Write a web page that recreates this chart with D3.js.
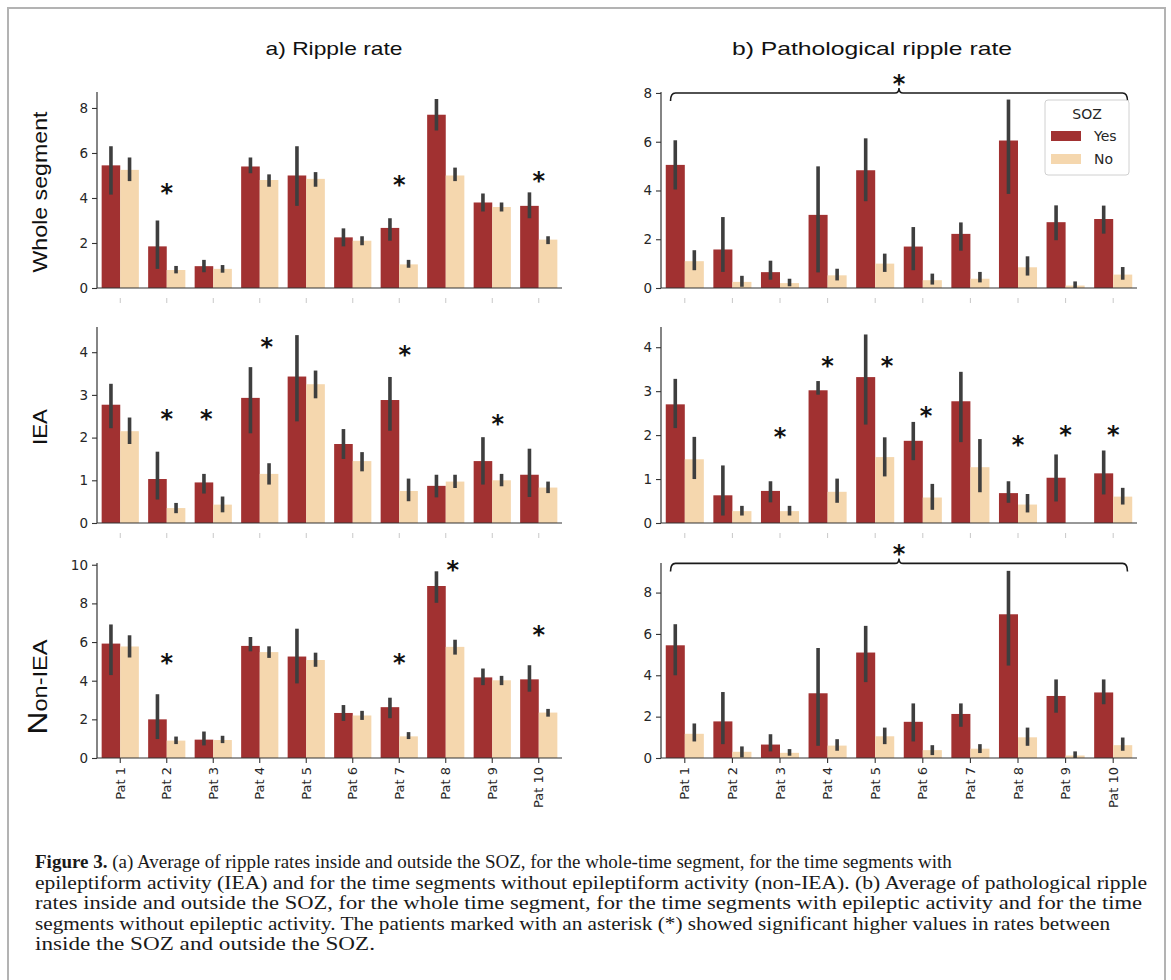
<!DOCTYPE html>
<html><head><meta charset="utf-8">
<script src="https://cdn.jsdelivr.net/npm/d3@7"></script>
<style>body{margin:0;background:#fff} svg{display:block}</style>
</head><body><svg id="c" width="1171" height="980"></svg>
<script>
// ---------------- DATA ----------------
const patients = ["Pat 1","Pat 2","Pat 3","Pat 4","Pat 5","Pat 6","Pat 7","Pat 8","Pat 9","Pat 10"];
const sozLevels = ["Yes","No"];

// a) Ripple rate - Whole segment
const rippleWholeYes   = [5.45, 1.85, 0.97, 5.4, 5.0, 2.25, 2.67, 7.7, 3.8, 3.65];
const rippleWholeYesCI = [[4.15,6.3],[0.85,3.0],[0.7,1.25],[5.1,5.8],[3.65,6.3],[1.85,2.65],[2.1,3.1],[7.0,8.4],[3.4,4.2],[3.1,4.25]];
const rippleWholeNo    = [5.25, 0.8, 0.85, 4.8, 4.85, 2.1, 1.05, 5.0, 3.6, 2.15];
const rippleWholeNoCI  = [[4.75,5.8],[0.65,0.98],[0.68,1.02],[4.5,5.05],[4.5,5.15],[1.9,2.3],[0.9,1.25],[4.75,5.35],[3.4,3.8],[1.95,2.3]];
const rippleWholeStars = [[1,4.5],[6,4.85],[9,5.0]];

// a) Ripple rate - IEA
const rippleIEAYes   = [2.77, 1.03, 0.95, 2.93, 3.43, 1.85, 2.88, 0.87, 1.45, 1.13];
const rippleIEAYesCI = [[2.22,3.26],[0.55,1.67],[0.69,1.15],[2.1,3.65],[2.38,4.4],[1.5,2.2],[2.16,3.42],[0.6,1.13],[0.9,2.01],[0.61,1.74]];
const rippleIEANo    = [2.15, 0.35, 0.43, 1.15, 3.25, 1.45, 0.75, 0.97, 1.0, 0.83];
const rippleIEANoCI  = [[1.85,2.47],[0.23,0.47],[0.25,0.62],[0.9,1.4],[2.92,3.57],[1.21,1.66],[0.51,1.04],[0.82,1.13],[0.86,1.15],[0.7,0.97]];
const rippleIEAStars = [[1,2.57],[2,2.57,-0.15],[3,4.27,0.15],[6,4.07,0.12],[8,2.46,0.12]];

// a) Ripple rate - Non-IEA
const rippleNonYes   = [5.92, 2.0, 0.95, 5.8, 5.25, 2.33, 2.63, 8.9, 4.17, 4.07];
const rippleNonYesCI = [[4.29,6.91],[0.98,3.3],[0.65,1.37],[5.52,6.26],[3.86,6.69],[1.92,2.74],[2.06,3.12],[8.03,9.66],[3.77,4.63],[3.43,4.8]];
const rippleNonNo    = [5.77, 0.9, 0.93, 5.48, 5.07, 2.2, 1.12, 5.75, 4.02, 2.35];
const rippleNonNoCI  = [[5.2,6.35],[0.72,1.11],[0.77,1.15],[5.18,5.78],[4.72,5.45],[1.97,2.44],[0.98,1.34],[5.35,6.12],[3.77,4.25],[2.14,2.54]];
const rippleNonStars = [[1,5.23],[6,5.23],[7,10.03,0.15],[9,6.69]];

// b) Pathological ripple rate - Whole segment
const pathWholeYes   = [5.05, 1.58, 0.65, 3.0, 4.83, 1.7, 2.22, 6.05, 2.7, 2.83];
const pathWholeYesCI = [[4.04,6.06],[0.66,2.91],[0.34,1.12],[0.64,4.99],[3.56,6.14],[0.73,2.5],[1.53,2.69],[3.86,7.73],[1.96,3.39],[2.23,3.38]];
const pathWholeNo    = [1.1, 0.25, 0.2, 0.52, 1.0, 0.32, 0.38, 0.85, 0.1, 0.55];
const pathWholeNoCI  = [[0.73,1.55],[0.05,0.5],[0.07,0.38],[0.31,0.79],[0.66,1.41],[0.14,0.59],[0.23,0.66],[0.51,1.3],[0.0,0.27],[0.34,0.86]];

// b) Pathological ripple rate - IEA
const pathIEAYes   = [2.7, 0.63, 0.73, 3.02, 3.32, 1.87, 2.77, 0.68, 1.03, 1.13];
const pathIEAYesCI = [[2.16,3.28],[0.17,1.31],[0.47,0.95],[2.92,3.23],[2.24,4.29],[1.43,2.3],[1.84,3.44],[0.46,0.95],[0.49,1.56],[0.65,1.65]];
const pathIEANo    = [1.45, 0.27, 0.27, 0.71, 1.5, 0.58, 1.27, 0.42, 0, 0.6];
const pathIEANoCI  = [[1.0,1.96],[0.17,0.39],[0.17,0.39],[0.46,1.01],[1.06,1.95],[0.3,0.89],[0.7,1.91],[0.24,0.66],null,[0.42,0.8]];
const pathIEAStars = [[2,2.1],[3,3.7],[4,3.7,0.25],[5,2.57,0.07],[7,1.92],[8,2.15],[9,2.15]];

// b) Pathological ripple rate - Non-IEA
const pathNonYes   = [5.45, 1.77, 0.65, 3.13, 5.1, 1.75, 2.13, 6.95, 3.0, 3.17];
const pathNonYesCI = [[4.0,6.47],[0.67,3.19],[0.32,1.15],[0.59,5.32],[3.67,6.39],[0.8,2.64],[1.51,2.64],[4.47,9.05],[2.19,3.8],[2.6,3.8]];
const pathNonNo    = [1.17, 0.3, 0.25, 0.6, 1.05, 0.38, 0.45, 1.0, 0.12, 0.62];
const pathNonNoCI  = [[0.8,1.67],[0.03,0.56],[0.11,0.43],[0.35,0.91],[0.67,1.47],[0.14,0.62],[0.24,0.67],[0.59,1.47],[0,0.32],[0.35,0.99]];

// axis limits and ticks
const yLimits = [[8.71, 4.59, 10.09],[8.04, 4.46, 9.43]];
const yTicks  = [[[0,2,4,6,8],[0,1,2,3,4],[0,2,4,6,8,10]],[[0,2,4,6,8],[0,1,2,3,4],[0,2,4,6,8]]];
const bracketLevels = [8.0, null, 9.41]; // panel b whole & non-IEA overall significance

const colTitles = ["a) Ripple rate","b) Pathological ripple rate"];
const rowLabels = ["Whole segment","IEA","Non-IEA"];
const captionLines = [
  ["Figure 3.", " (a) Average of ripple rates inside and outside the SOZ, for the whole-time segment, for the time segments with"],
  ["", "epileptiform activity (IEA) and for the time segments without epileptiform activity (non-IEA). (b) Average of pathological ripple"],
  ["", "rates inside and outside the SOZ, for the whole time segment, for the time segments with epileptic activity and for the time"],
  ["", "segments without epileptic activity. The patients marked with an asterisk (*) showed significant higher values in rates between"],
  ["", "inside the SOZ and outside the SOZ."]
];

// ---------------- LAYOUT / STYLE ----------------
const W = 1171, H = 980;
const colYes = "#a13131", colNo = "#f5d7ae", colErr = "#3e3e3e", colAxis = "#333333", colText = "#262626";
const cols = [{x0:97, x1:562},{x0:661, x1:1137}];
const rows = [{top:92, bottom:288},{top:327, bottom:523},{top:563, bottom:758}];
const captionLen = [null, 1112, 1107, 1075, 340];

const svg = d3.select("#c");
svg.append("rect").attr("width",W).attr("height",H).attr("fill","#fff");
svg.append("path").attr("d",`M8,${H+2} V8 H1165 V${H+2}`).attr("fill","none").attr("stroke","#b3b3b3").attr("stroke-width",2);

const panels = [
  [ {yes:rippleWholeYes, yesCI:rippleWholeYesCI, no:rippleWholeNo, noCI:rippleWholeNoCI, stars:rippleWholeStars},
    {yes:rippleIEAYes, yesCI:rippleIEAYesCI, no:rippleIEANo, noCI:rippleIEANoCI, stars:rippleIEAStars},
    {yes:rippleNonYes, yesCI:rippleNonYesCI, no:rippleNonNo, noCI:rippleNonNoCI, stars:rippleNonStars} ],
  [ {yes:pathWholeYes, yesCI:pathWholeYesCI, no:pathWholeNo, noCI:pathWholeNoCI, stars:[]},
    {yes:pathIEAYes, yesCI:pathIEAYesCI, no:pathIEANo, noCI:pathIEANoCI, stars:pathIEAStars},
    {yes:pathNonYes, yesCI:pathNonYesCI, no:pathNonNo, noCI:pathNonNoCI, stars:[]} ]
];

function drawPanel(ci, ri, d) {
  const c = cols[ci], r = rows[ri];
  const g = svg.append("g");
  const x = d3.scaleBand().domain(patients).range([c.x0, c.x1]).paddingInner(0.2).paddingOuter(0.1);
  const xs = d3.scaleBand().domain(sozLevels).range([0, x.bandwidth()]);
  const y = d3.scaleLinear().domain([0, yLimits[ci][ri]]).range([r.bottom, r.top]);

  const series = [{k:"Yes", v:d.yes, ci:d.yesCI, col:colYes},{k:"No", v:d.no, ci:d.noCI, col:colNo}];
  series.forEach(s => {
    const rowsData = patients.map((p,i)=>({p, v:s.v[i], ci:s.ci[i]}));
    g.selectAll(null).data(rowsData).enter().append("rect")
      .attr("x", e => x(e.p) + xs(s.k))
      .attr("width", xs.bandwidth())
      .attr("y", e => y(e.v))
      .attr("height", e => y(0) - y(e.v))
      .attr("fill", s.col);
  });
  series.forEach(s => {
    const rowsData = patients.map((p,i)=>({p, ci:s.ci[i]})).filter(e => e.ci);
    g.selectAll(null).data(rowsData).enter().append("line")
      .attr("x1", e => x(e.p) + xs(s.k) + xs.bandwidth()/2)
      .attr("x2", e => x(e.p) + xs(s.k) + xs.bandwidth()/2)
      .attr("y1", e => y(e.ci[0]))
      .attr("y2", e => y(e.ci[1]))
      .attr("stroke", colErr).attr("stroke-width", 3.6);
  });

  // y axis
  const ya = g.append("g").attr("transform",`translate(${c.x0},0)`)
    .call(d3.axisLeft(y).tickValues(yTicks[ci][ri]).tickFormat(d3.format("d")).tickSize(5).tickSizeOuter(0).tickPadding(4));
  ya.select(".domain").remove();
  ya.selectAll("line").attr("stroke", colAxis).attr("stroke-width",1.1);
  ya.selectAll("text").attr("font-family","DejaVu Sans").attr("font-size",13.5).attr("fill",colText);
  g.append("line").attr("x1",c.x0).attr("x2",c.x0).attr("y1",r.top).attr("y2",r.bottom).attr("stroke",colAxis).attr("stroke-width",1.2);

  // x axis
  const xa = g.append("g").attr("transform",`translate(0,${r.bottom})`)
    .call(d3.axisBottom(x).tickSize(ri===2?5:0).tickSizeOuter(0).tickPadding(6));
  xa.select(".domain").remove();
  xa.selectAll("line").attr("stroke", colAxis).attr("stroke-width",1.1);
  if (ri === 2) {
    xa.selectAll("text")
      .attr("transform","rotate(-90)")
      .attr("x",-9).attr("y",0).attr("dy","0.36em")
      .style("text-anchor","end")
      .attr("font-family","DejaVu Sans").attr("font-size",13).attr("fill",colText);
  } else {
    xa.selectAll("text").remove();
    xa.selectAll(".tick").append("line").attr("y1",10).attr("y2",15).attr("stroke","#c8c8c8").attr("stroke-width",1);
  }
  g.append("line").attr("x1",c.x0).attr("x2",c.x1).attr("y1",r.bottom).attr("y2",r.bottom).attr("stroke",colAxis).attr("stroke-width",1.2);

  // significance stars
  g.selectAll(null).data(d.stars).enter().append("text")
    .attr("x", s => x(patients[s[0]]) + x.bandwidth()/2 + (s[2]||0)*x.step())
    .attr("y", s => y(s[1]) + 14)
    .attr("text-anchor","middle")
    .attr("font-family","DejaVu Sans").attr("font-weight","bold").attr("font-size",24).attr("fill","#111")
    .text("*");

  // bracket over all patients
  if (ci === 1 && bracketLevels[ri] != null) {
    const yb = y(bracketLevels[ri]);
    const xl = c.x0 + 0.2*x.step(), xr = c.x1 - 0.2*x.step(), xm = (c.x0 + c.x1)/2;
    g.append("path")
      .attr("d", `M${xl},${yb+8} Q${xl},${yb} ${xl+5},${yb} H${xm-4} Q${xm},${yb} ${xm},${yb-5} Q${xm},${yb} ${xm+4},${yb} H${xr-5} Q${xr},${yb} ${xr},${yb+8}`)
      .attr("fill","none").attr("stroke","#1a1a1a").attr("stroke-width",1.6);
    g.append("text").attr("x", xm).attr("y", yb - 1)
      .attr("text-anchor","middle")
      .attr("font-family","DejaVu Sans").attr("font-weight","bold").attr("font-size",24).attr("fill","#111")
      .text("*");
  }

  // legend
  if (ci === 1 && ri === 0) {
    const lx = c.x1 - 8 - 84, ly = r.top + 8;
    const lg = svg.append("g").attr("transform",`translate(${lx},${ly})`);
    lg.append("rect").attr("width",84).attr("height",75).attr("rx",3)
      .attr("fill","#fff").attr("fill-opacity",0.85).attr("stroke","#d0d0d0").attr("stroke-width",1);
    lg.append("text").attr("x",42).attr("y",19).attr("text-anchor","middle")
      .attr("font-family","DejaVu Sans").attr("font-size",14).attr("fill",colText).text("SOZ");
    const items = [{k:"Yes", col:colYes},{k:"No", col:colNo}];
    items.forEach((it,i) => {
      lg.append("rect").attr("x",6).attr("y",31 + i*23).attr("width",30).attr("height",10).attr("fill",it.col);
      lg.append("text").attr("x",49).attr("y",41 + i*23)
        .attr("font-family","DejaVu Sans").attr("font-size",14).attr("fill",colText).text(it.k);
    });
  }
}

panels.forEach((col,ci) => col.forEach((d,ri) => drawPanel(ci, ri, d)));

// column titles
const titleSpecs = [{cx:334, len:137},{cx:872, len:280}];
colTitles.forEach((t,i) => {
  svg.append("text").attr("x", titleSpecs[i].cx).attr("y",55).attr("text-anchor","middle")
    .attr("font-family","Liberation Sans").attr("font-size",19).attr("fill","#111")
    .attr("textLength", titleSpecs[i].len).attr("lengthAdjust","spacingAndGlyphs")
    .text(t);
});

// row labels
const rowLabelSpecs = [{cy:192, len:161},{cy:427, len:36},{cy:687, len:95}];
rowLabels.forEach((t,i) => {
  const tx = svg.append("text").attr("transform",`translate(47,${rowLabelSpecs[i].cy}) rotate(-90)`)
    .attr("text-anchor","middle")
    .attr("font-family","Liberation Sans").attr("font-size",20).attr("fill","#111")
    .attr("textLength", rowLabelSpecs[i].len).attr("lengthAdjust","spacingAndGlyphs");
  if (t === "Non-IEA") {
    tx.append("tspan").attr("font-size",27).text(t[0]);
    tx.append("tspan").text(t.slice(1));
  } else tx.text(t);
});

// caption
captionLines.forEach((ln,i) => {
  const t = svg.append("text").attr("x",35).attr("y",868 + i*20.5)
    .attr("font-family","Liberation Serif").attr("font-size",19).attr("fill","#1a1a1a");
  if (captionLen[i]) t.attr("textLength", captionLen[i]).attr("lengthAdjust","spacingAndGlyphs");
  if (ln[0]) t.append("tspan").attr("font-weight","bold").text(ln[0]);
  t.append("tspan").text(ln[1]);
});
</script>
</body></html>
